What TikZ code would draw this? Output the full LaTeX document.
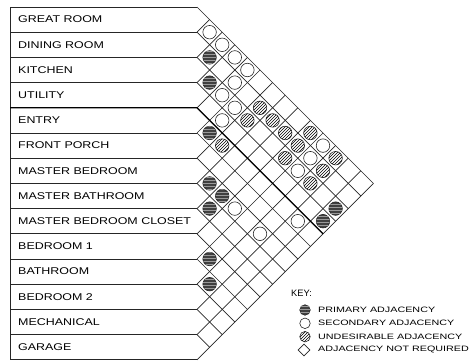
\documentclass[tikz,border=0pt]{standalone}
\usepackage{fontspec}
\newfontfamily\archfont[FakeStretch=1.27]{Liberation Sans}
\newfontfamily\keyfont[FakeStretch=1.38]{Liberation Sans}
\newfontfamily\plainfont{Liberation Sans}
\usetikzlibrary{shapes.geometric,patterns}

\begin{document}
\begin{tikzpicture}[
  x=1pt, y=-1pt,
  font=\archfont\fontsize{9.8}{10}\selectfont,
  grid/.style={line width=0.7pt, color=black!85},
  heavy/.style={line width=1.2pt, color=black},
  room/.style={anchor=west, inner sep=0pt},
  sym/.style={circle, draw=black!85, line width=0.6pt, minimum size=13.5pt,
              inner sep=0pt},
  prim/.style={sym, fill=black!75,
               postaction={pattern=horizontal lines, pattern color=black!40}},
  sec/.style={sym, fill=white},
  undes/.style={sym, fill=white, postaction={pattern=north east lines}},
  keytext/.style={anchor=west, inner sep=0pt,
                  font=\keyfont\fontsize{7.8}{8}\selectfont}
]
\useasboundingbox (0,0) rectangle (475,364);

% ---------- room list ----------
\foreach \n/\t in {1/GREAT ROOM, 2/DINING ROOM, 3/KITCHEN, 4/UTILITY,
                   5/ENTRY, 6/FRONT PORCH, 7/MASTER BEDROOM,
                   8/MASTER BATHROOM, 9/MASTER BEDROOM CLOSET,
                   10/BEDROOM 1, 11/BATHROOM, 12/BEDROOM 2,
                   13/MECHANICAL, 14/GARAGE}
  \node[room] (r\n) at (18,{25.2*\n-5.6}) {\t};

% row boxes
\draw[grid] (10,7) -- (197,7);
\foreach \k in {1,...,14}
  \draw[grid] (10,{7+25.2*\k}) -- (197,{7+25.2*\k});
\draw[grid] (10,7) -- (10,359.8);

% ---------- diamond grid ----------
\foreach \k in {0,...,14} {
  \draw[grid] (197,{7+25.2*\k}) -- ++({12.6*(14-\k)},{12.6*(14-\k)});
  \draw[grid] (197,{7+25.2*\k}) -- ++({12.6*\k},{-12.6*\k});
}
% zone divider below utility
\draw[heavy] (10,107.8) -- (197,107.8) -- ++(126,126);

% ---------- adjacencies ----------
\foreach \i/\j in {2/3,3/4,5/6,7/8,7/9,8/9,10/11,11/12,4/14,3/14}
  \node[prim] (c\i-\j) at ({197+12.6*(\j-\i)},{7+12.6*(\i+\j-1)}) {};
\foreach \i/\j in {1/2,1/3,1/4,1/5,2/5,3/5,3/6,4/6,7/10,7/12,3/11,2/11,
                   1/11,5/13}
  \node[sec] (c\i-\j) at ({197+12.6*(\j-\i)},{7+12.6*(\i+\j-1)}) {};
\foreach \i/\j in {5/7,2/7,3/7,2/8,2/9,3/10,2/10,1/10,3/12,2/12,1/12}
  \node[undes] (c\i-\j) at ({197+12.6*(\j-\i)},{7+12.6*(\i+\j-1)}) {};

% ---------- key ----------
\node[anchor=west, inner sep=0pt, font=\plainfont\fontsize{9.3}{10}\selectfont]
  (key) at (291,293) {KEY:};
\node[prim, minimum size=10.5pt]  (kp) at (305,310) {};
\node[keytext] (kpt) at (318,310) {PRIMARY ADJACENCY};
\node[sec, minimum size=10.5pt]   (ks) at (305,323.3) {};
\node[keytext] (kst) at (318,323.3) {SECONDARY ADJACENCY};
\node[undes, minimum size=10.5pt] (ku) at (305,336.7) {};
\node[keytext] (kut) at (318,336.7) {UNDESIRABLE ADJACENCY};
\node[diamond, draw=black!85, line width=0.6pt, minimum width=12pt,
      minimum height=12pt, inner sep=0pt] (kn) at (304,350) {};
\node[keytext] (knt) at (318,350) {ADJACENCY NOT REQUIRED};

\end{tikzpicture}
\end{document}
